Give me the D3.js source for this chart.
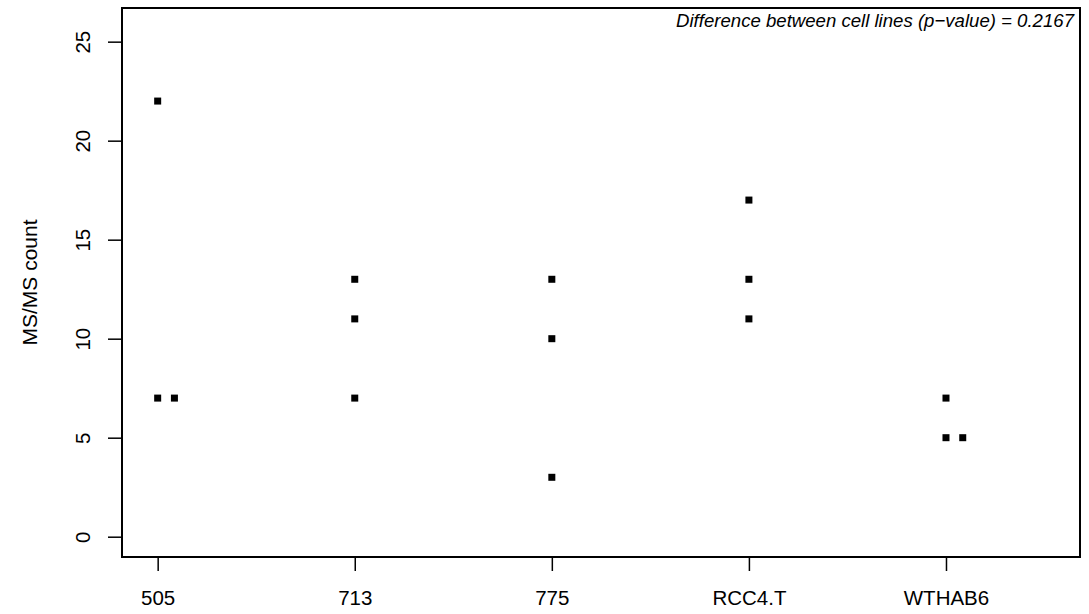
<!DOCTYPE html>
<html>
<head>
<meta charset="utf-8">
<script src="https://cdn.jsdelivr.net/npm/d3@7"></script>
<style>
  body { margin: 0; background: #fff; }
  text { font-family: "Liberation Sans", Arial, sans-serif; fill: #000; }
</style>
</head>
<body>
<script>
// cell lines and their MS/MS counts
var categories = ["505", "713", "775", "RCC4.T", "WTHAB6"];
var counts505 = [22, 7, 7],
    counts713 = [13, 11, 7],
    counts775 = [13, 10, 3],
    countsRCC4T = [17, 13, 11],
    countsWTHAB6 = [7, 5, 5];
var yTicks = [0, 5, 10, 15, 20, 25];
var note = "Difference between cell lines (p\u2212value) = 0.2167";

var width = 1089,
    height = 614,
    plotLeft = 122, plotRight = 1080, plotTop = 8, plotBottom = 557;

var x = d3.scaleLinear().domain([0.819, 5.68]).range([plotLeft, plotRight]);
var y = d3.scaleLinear().domain([-1.025, 26.7]).range([plotBottom, plotTop]);

var svg = d3.select("body").append("svg")
    .attr("width", width)
    .attr("height", height);

// build points, stacking duplicates sideways like stripchart(method="stack")
var groups = [counts505, counts713, counts775, countsRCC4T, countsWTHAB6];
var points = [];
groups.forEach(function(vals, gi) {
  var seen = {};
  vals.forEach(function(v) {
    var k = seen[v] || 0;
    seen[v] = k + 1;
    points.push({ pos: gi + 1 + k * 0.085, value: v });
  });
});

svg.selectAll("rect.pt")
    .data(points)
  .enter().append("rect")
    .attr("class", "pt")
    .attr("x", function(d) { return x(d.pos) - 3.5; })
    .attr("y", function(d) { return y(d.value) - 3.5; })
    .attr("width", 7)
    .attr("height", 7)
    .attr("fill", "#000");

// y axis
var yAxis = svg.append("g")
    .attr("transform", "translate(" + plotLeft + ",0)")
    .call(d3.axisLeft(y).tickValues(yTicks).tickSize(14).tickPadding(0).tickFormat(d3.format("d")));
yAxis.select(".domain").remove();
yAxis.selectAll("line").attr("stroke", "#000").attr("stroke-width", 1.5);
yAxis.selectAll("text")
    .attr("x", null).attr("dy", null)
    .attr("transform", "translate(-32,0) rotate(-90)")
    .attr("text-anchor", "middle")
    .style("font-size", "20.5px");

// x axis
var xAxis = svg.append("g")
    .attr("transform", "translate(0," + plotBottom + ")")
    .call(d3.axisBottom(x).tickValues([1, 2, 3, 4, 5]).tickSize(14)
      .tickFormat(function(d) { return categories[d - 1]; }));
xAxis.select(".domain").remove();
xAxis.selectAll("line").attr("stroke", "#000").attr("stroke-width", 1.5);
xAxis.selectAll("text")
    .attr("y", 48).attr("dy", null)
    .style("font-size", "20.5px");

// frame
svg.append("rect")
    .attr("x", plotLeft).attr("y", plotTop)
    .attr("width", plotRight - plotLeft).attr("height", plotBottom - plotTop)
    .attr("fill", "none")
    .attr("stroke", "#000")
    .attr("stroke-width", 2);

// axis title
svg.append("text")
    .attr("transform", "translate(37," + ((plotTop + plotBottom) / 2) + ") rotate(-90)")
    .attr("text-anchor", "middle")
    .style("font-size", "21px")
    .text("MS/MS count");

// p-value note
svg.append("text")
    .attr("x", 1074).attr("y", 27)
    .attr("text-anchor", "end")
    .style("font-size", "18.6px")
    .style("font-style", "italic")
    .text(note);
</script>
</body>
</html>
